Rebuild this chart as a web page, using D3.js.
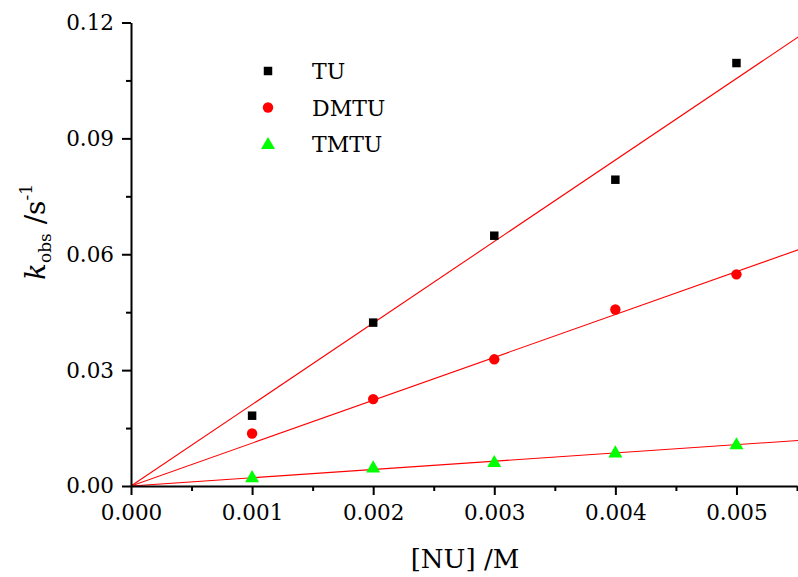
<!DOCTYPE html>
<html>
<head>
<meta charset="utf-8">
<script src="https://cdn.jsdelivr.net/npm/d3@7"></script>
<style>
  html, body { margin: 0; padding: 0; background: #fff; }
  svg { display: block; }
  text { font-family: "DejaVu Serif", "Liberation Serif", serif; fill: #000; }
</style>
</head>
<body>
<svg id="chart" width="798" height="577"></svg>
<script>
// Nucleophile concentrations [NU] in M
const concentrations = [0.001, 0.002, 0.003, 0.004, 0.005];

// Observed rate constants k_obs (s^-1) for each thiourea
const seriesNames = ["TU", "DMTU", "TMTU"];
const tuValues   = [0.0182, 0.0423, 0.0648, 0.0793, 0.1095];
const dmtuValues = [0.0136, 0.0225, 0.0328, 0.0457, 0.0548];
const tmtuValues = [0.0023, 0.0048, 0.0062, 0.0087, 0.0108];

// Slopes of the linear fits through the origin (M^-1 s^-1)
const fitSlopes = [21.1, 11.1, 2.14];

// Axis ticks
const xMajorTicks = [0, 0.001, 0.002, 0.003, 0.004, 0.005];
const xMinorTicks = [0.0005, 0.0015, 0.0025, 0.0035, 0.0045, 0.0055];
const yMajorTicks = [0, 0.03, 0.06, 0.09, 0.12];
const yMinorTicks = [0.015, 0.045, 0.075, 0.105];

const seriesValues = [tuValues, dmtuValues, tmtuValues];
const seriesColors = ["#000000", "#ff0000", "#00ff00"];
const seriesSymbols = [d3.symbolSquare, d3.symbolCircle, d3.symbolTriangle];
const symbolSizes = [72, 85, 85];

const svg = d3.select("#chart");

const x = d3.scaleLinear().domain([0, 0.0055]).range([131, 797]);
const y = d3.scaleLinear().domain([0, 0.12]).range([486, 22.5]);

// Clip region for the fit lines
svg.append("defs").append("clipPath").attr("id", "plot-clip")
  .append("rect").attr("x", 131).attr("y", 0).attr("width", 667).attr("height", 486);

// Fit lines
const lineGen = d3.line().x(d => x(d[0])).y(d => y(d[1]));
svg.append("g").attr("clip-path", "url(#plot-clip)")
  .selectAll("path.fit")
  .data(fitSlopes)
  .join("path")
  .attr("class", "fit")
  .attr("d", s => lineGen([[0, 0], [0.0056, s * 0.0056]]))
  .attr("fill", "none")
  .attr("stroke", "#ff0000")
  .attr("stroke-width", 1.1);

// Data markers
seriesValues.forEach((vals, i) => {
  svg.append("g")
    .selectAll("path")
    .data(vals.map((v, j) => [concentrations[j], v]))
    .join("path")
    .attr("transform", d => `translate(${x(d[0])},${y(d[1]) + (i === 2 ? 1 : 0)})`)
    .attr("d", d3.symbol().type(seriesSymbols[i]).size(symbolSizes[i]))
    .attr("fill", seriesColors[i]);
});

// Axes
const axisColor = "#000";
svg.append("g").attr("transform", "translate(0,486)")
  .call(d3.axisBottom(x).tickValues(xMajorTicks).tickFormat(d3.format(".3f"))
    .tickSizeInner(9).tickSizeOuter(0).tickPadding(10));
svg.append("g").attr("transform", "translate(0,486)")
  .call(d3.axisBottom(x).tickValues(xMinorTicks).tickFormat("").tickSizeInner(5).tickSizeOuter(0))
  .select(".domain").remove();

svg.append("g").attr("transform", "translate(131,0)")
  .call(d3.axisLeft(y).tickValues(yMajorTicks).tickFormat(d3.format(".2f"))
    .tickSizeInner(9).tickSizeOuter(0).tickPadding(8));
svg.append("g").attr("transform", "translate(131,0)")
  .call(d3.axisLeft(y).tickValues(yMinorTicks).tickFormat("").tickSizeInner(5).tickSizeOuter(0))
  .select(".domain").remove();

svg.selectAll(".domain").attr("stroke", axisColor).attr("stroke-width", 2);
svg.selectAll(".tick line").attr("stroke", axisColor).attr("stroke-width", 2);
svg.selectAll(".tick text")
  .style("font-family", '"DejaVu Serif", "Liberation Serif", serif')
  .attr("font-size", 21.5).attr("fill", "#000");

// Axis titles
svg.append("text")
  .attr("x", 465).attr("y", 568)
  .attr("text-anchor", "middle")
  .attr("font-size", 26)
  .text("[NU] /M");

const yTitle = svg.append("text")
  .attr("transform", "translate(45,232) rotate(-90)")
  .attr("text-anchor", "middle")
  .attr("font-size", 28);
yTitle.append("tspan").attr("font-style", "italic").text("k");
yTitle.append("tspan").attr("font-size", 17).attr("dy", 6).text("obs");
yTitle.append("tspan").attr("dy", -6).text(" /s");
yTitle.append("tspan").attr("font-size", 17).attr("dy", -13).text("-1");

// Legend
const legend = svg.append("g");
seriesNames.forEach((name, i) => {
  const ly = 71 + i * 36.5;
  legend.append("path")
    .attr("transform", `translate(268,${ly + (i === 2 ? 1 : 0)})`)
    .attr("d", d3.symbol().type(seriesSymbols[i]).size(symbolSizes[i]))
    .attr("fill", seriesColors[i]);
  legend.append("text")
    .attr("x", 312).attr("y", ly + 8)
    .attr("font-size", 22)
    .text(name);
});
</script>
</body>
</html>
